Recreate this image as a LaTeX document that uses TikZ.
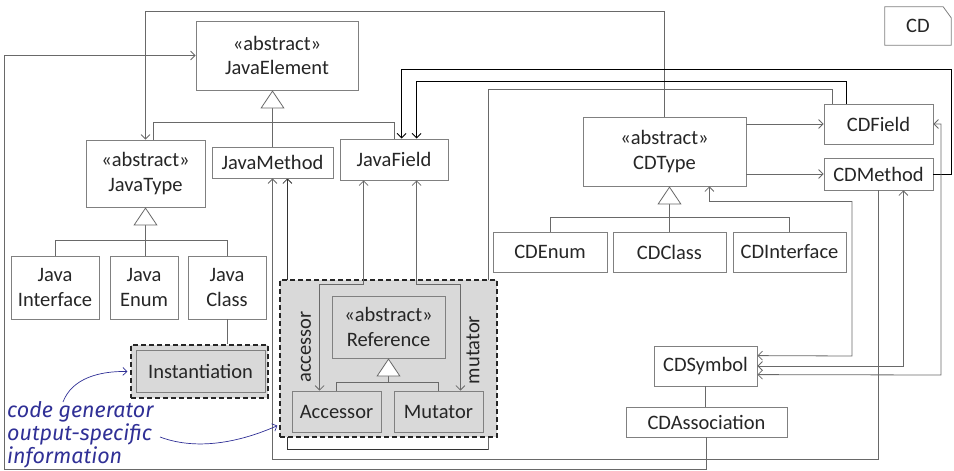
\documentclass[tikz,border=0pt]{standalone}
\usepackage{fontspec}
\setmainfont{Carlito}
\newfontfamily\annfont{Fira Sans}
\usetikzlibrary{arrows.meta,backgrounds}
\definecolor{lgray}{RGB}{217,217,217}
\definecolor{bcol}{RGB}{128,128,128}
\definecolor{lcol}{RGB}{105,105,105}
\definecolor{anncol}{RGB}{48,48,150}
\newcommand\ubox[7][]{\node[ubox,#1,minimum width={(#4-#2)*1pt},minimum height={(#5-#3)*1pt}] (#6) at ({(#2+#4)/2},{(#3+#5)/2}) {#7};}
\begin{document}
\begin{tikzpicture}[x=1pt,y=-1pt,
  ubox/.style={draw=bcol, fill=white, line width=0.8pt, inner sep=0pt, align=center, text=black!85, font=\fontsize{20.5}{24.5}\selectfont},
  gbox/.style={fill=lgray},
  dbox/.style={draw=black!85, fill=lgray, line width=1.3pt, dash pattern=on 5pt off 3pt},
  conn/.style={draw=lcol, line width=0.8pt},
  connb/.style={draw=black, line width=1pt},
  genline/.style={draw=lcol, line width=0.8pt},
  gentip/.style={draw=lcol, line width=0.8pt, -{Triangle[length=18pt,width=24pt,fill=white]}},
  lbl/.style={text=black!85, font=\fontsize{20.5}{24}\selectfont, inner sep=0pt},
  annarrow/.style={draw=anncol, line width=0.7pt, -{Straight Barb[length=4pt,width=8pt]}},
  >={Straight Barb[length=4.5pt,width=9pt]}]
\useasboundingbox (0,0) rectangle (954,471);

% boxes
\ubox{196}{21}{358}{90}{JavaElement}{«abstract»\\JavaElement}
\ubox{86}{140}{205}{207}{JavaType}{«abstract»\\JavaType}
\ubox{212}{147}{333}{178}{JavaMethod}{JavaMethod}
\ubox{340}{139}{448}{180}{JavaField}{JavaField}
\ubox{11}{256}{99}{319}{JavaInterface}{Java\\Interface}
\ubox{110}{256}{178}{319}{JavaEnum}{Java\\Enum}
\ubox{188}{256}{266}{319}{JavaClass}{Java\\Class}
\ubox[dbox]{131}{345}{268}{398}{InstOuter}{}
\ubox[gbox]{136}{350}{265}{392}{Inst}{Instantiation}
\ubox[dbox]{280}{280}{497}{437}{RefOuter}{}
\ubox[gbox]{332}{296}{445}{358}{Reference}{«abstract»\\Reference}
\ubox[gbox]{292}{391}{381}{432}{Accessor}{Accessor}
\ubox[gbox]{394}{391}{483}{432}{Mutator}{Mutator}
\ubox{583}{117}{746}{186}{CDType}{«abstract»\\CDType}
\ubox{824}{104}{933}{144}{CDField}{CDField}
\ubox{824}{158}{933}{190}{CDMethod}{CDMethod}
\ubox{493}{232}{607}{272}{CDEnum}{CDEnum}
\ubox{613}{232}{726}{272}{CDClass}{CDClass}
\ubox{733}{232}{846}{272}{CDInterface}{CDInterface}
\ubox{654}{346}{757}{386}{CDSymbol}{CDSymbol}
\ubox{626}{407}{787}{437}{CDAssociation}{CDAssociation}

% note
\node[lbl, minimum width=66pt, minimum height=38pt] (cdnote) at (918,26) {CD};
\begin{pgfonlayer}{background}
\draw[draw=bcol, line width=0.8pt, fill=white] (cdnote.north west) -- ([xshift=-8pt]cdnote.north east) -- ([yshift=-11pt]cdnote.north east) -- (cdnote.south east) -- (cdnote.south west) -- cycle;
\draw[conn] ([xshift=9pt]CDField.north west) -- ++(0,-14) -| (488,449) -| ([xshift=-46pt]JavaMethod.south east);
\draw[conn,draw=black!80,->] (488,449) -| ([xshift=-46pt]JavaMethod.south east);
\end{pgfonlayer}

% generalizations
\draw[genline] ([xshift=7.5pt]JavaType.north) -- ++(0,-17) -| (JavaField.north);
\draw[gentip] (JavaMethod.north) -- (JavaMethod.north |- JavaElement.south);
\draw[genline] (JavaInterface.north) -- ++(0,-15) -| (JavaClass.north);
\draw[gentip] (JavaType.south |- JavaEnum.north) -- (JavaType.south);
\draw[genline] (CDEnum.north) -- ++(0,-14) -| (CDInterface.north);
\draw[gentip] (CDClass.north) -- (CDClass.north |- CDType.south);
\draw[genline] (Accessor.north) -- ++(0,-8) -| (Mutator.north);
\draw[gentip] (Reference.south |- Accessor.north) ++(0,-8) -- (Reference.south);

% associations
\draw[conn,->] (CDType.north) -- ++(0,-105) -| (JavaType.north);
\draw[conn,->] (CDAssociation.south) -- ++(0,32) -| (4,55.5) -- (JavaElement.west);
\draw[conn,->] (CDMethod.south) -- ++(0,269) -| (JavaMethod.south);
\draw[connb,->] (CDMethod.east) -| (951,69) -| ([xshift=62pt]JavaField.north west);
\draw[connb,->] ([xshift=-87pt]CDField.north east) -- ++(0,-22) -| ([xshift=77pt]JavaField.north west);
\draw[conn,->] (CDType.east |- CDField.west) -- (CDField.west);
\draw[conn,->] (CDType.east |- CDMethod.west) -- (CDMethod.west);
\draw[conn,<->] ([xshift=-37pt]CDType.south east) -- ++(0,15) -| (852,356) -- ([yshift=-10pt]CDSymbol.north east);
\draw[conn,<->] ([xshift=-30pt]CDMethod.south east) |- (CDSymbol.east);
\draw[conn,<->] (CDField.east) -| (941,375) -- ([yshift=-29pt]CDSymbol.north east);
\draw[conn] (CDSymbol.south) -- (CDSymbol.south |- CDAssociation.north);
\draw[conn] (JavaClass.south) -- (JavaClass.south |- InstOuter.north);
\draw[conn,<->] ([xshift=24pt]JavaField.south west) -- ++(0,104) -| ([xshift=28pt]Accessor.north west);
\draw[conn,<->] ([xshift=77pt]JavaField.south west) -- ++(0,104) -| ([xshift=-23pt]Mutator.north east);
\node[lbl, rotate=90] (acclbl) at (306,347) {accessor};
\node[lbl, rotate=90] (mutlbl) at (473,350) {mutator};

% annotation
\node[anchor=north west, inner sep=0pt, align=left, text=anncol, font=\annfont\itshape\fontsize{21.5}{23}\selectfont] (ann) at (7,401) {code generator\\output-specific\\information};
\coordinate (a1) at (63,402);
\coordinate (a2) at (160,437);
\draw[annarrow] (a1) .. controls (72,378) and (100,371) .. ([xshift=-3pt]InstOuter.west);
\draw[annarrow] (a2) .. controls (200,452) and (245,440) .. ([shift={(-2pt,12pt)}]RefOuter.south west);
\end{tikzpicture}
\end{document}
